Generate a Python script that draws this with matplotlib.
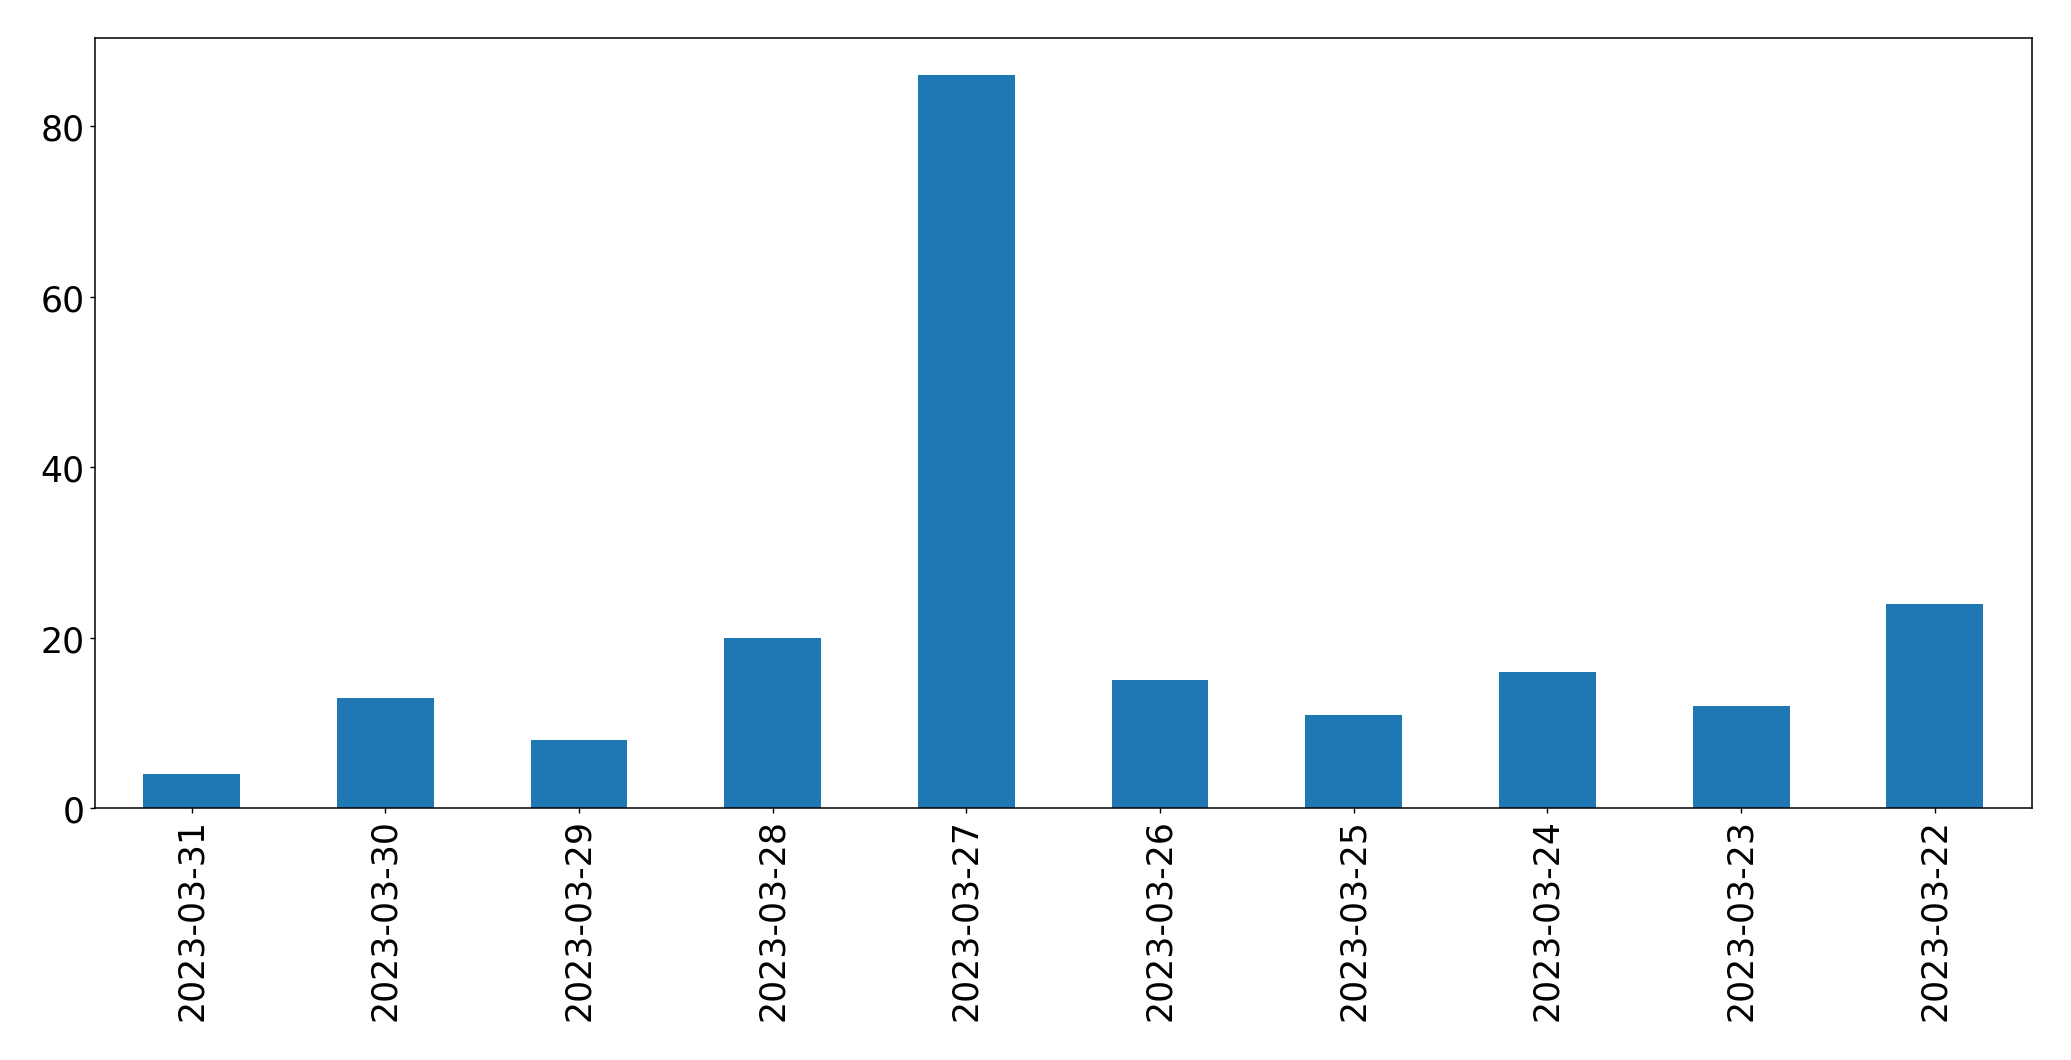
import matplotlib
matplotlib.use("Agg")
import matplotlib.pyplot as plt
import numpy as np

dates = ["2023-03-31", "2023-03-30", "2023-03-29", "2023-03-28", "2023-03-27",
         "2023-03-26", "2023-03-25", "2023-03-24", "2023-03-23", "2023-03-22"]
counts = [4, 13, 8, 20, 86, 15, 11, 16, 12, 24]

fig = plt.figure(figsize=(20.71, 10.608), dpi=100)
ax = fig.add_axes([94.7 / 2071, 251.7 / 1061, (2031.7 - 94.7) / 2071, (1021.7 - 251.7) / 1061])
x = np.arange(len(dates))
ax.bar(x, counts, width=0.5, color="#1f77b4")
ax.set_xlim(-0.5, len(dates) - 0.5)
ax.set_ylim(0, max(counts) * 1.05)
ax.set_xticks(x)
ax.set_xticklabels(dates, rotation=90)
ax.set_yticks([0, 20, 40, 60, 80])
ax.tick_params(labelsize=25, length=3.8, width=1.0)
for s in ax.spines.values():
    s.set_linewidth(1.1)
fig.savefig("out.png", dpi=100)
